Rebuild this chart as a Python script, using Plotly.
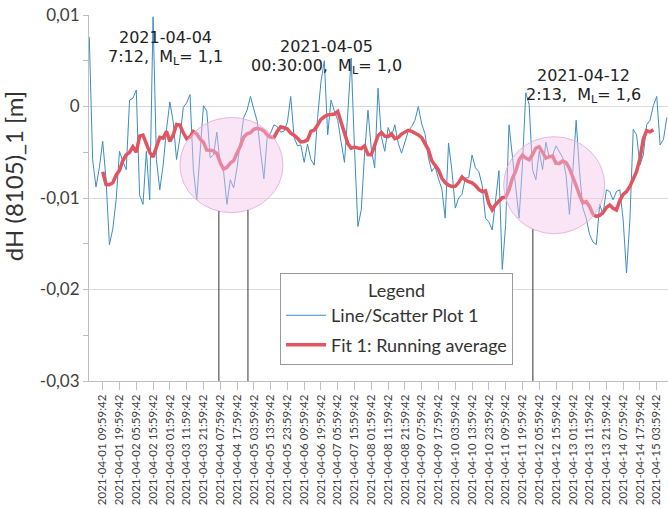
import numpy as np
import pandas as pd
import plotly.graph_objects as go

# Height change series dH (8105)_1, sampled every 2 hours
times = pd.date_range("2021-04-01 01:59:42", periods=173, freq="2h")
dh = [
    0.0076, -0.0058, -0.0088, -0.0067, -0.0038, -0.0080, -0.0151, -0.0134, -0.0102, -0.0049,
    -0.0060, -0.0069, 0.0007, 0.0009, 0.0018, -0.0097, -0.0107, -0.0049, -0.0102, 0.0098,
    -0.0058, -0.0091, -0.0064, -0.0025, 0.0005, -0.0017, -0.0058, -0.0034, -0.0001, 0.0004,
    0.0013, -0.0069, -0.0102, -0.0053, 0.0001, -0.0005, -0.0056, -0.0053, -0.0028, -0.0064,
    -0.0071, -0.0107, -0.0080, -0.0089, -0.0067, -0.0039, -0.0012, -0.0004, 0.0011, -0.0003,
    -0.0016, -0.0049, -0.0079, -0.0033, -0.0029, -0.0020, -0.0022, -0.0028, -0.0027, -0.0017,
    0.0011, -0.0034, -0.0043, -0.0042, -0.0061, -0.0041, -0.0058, -0.0064, -0.0012, 0.0027,
    0.0050, -0.0031, 0.0007, -0.0005, -0.0015, -0.0039, -0.0061, -0.0007, 0.0053, -0.0047,
    -0.0131, -0.0113, -0.0051, -0.0004, -0.0047, -0.0067, 0.0020, -0.0033, -0.0049, -0.0023,
    -0.0033, -0.0020, -0.0040, -0.0051, -0.0040, -0.0027, -0.0022, -0.0015, 0.0000, -0.0019,
    -0.0030, -0.0056, -0.0071, -0.0066, -0.0079, -0.0090, -0.0122, -0.0040, -0.0070, -0.0111,
    -0.0100, -0.0096, -0.0078, -0.0078, -0.0053, -0.0067, -0.0071, -0.0086, -0.0122, -0.0126,
    -0.0135, -0.0099, -0.0070, -0.0178, -0.0129, -0.0020, -0.0053, -0.0087, -0.0122, -0.0064,
    0.0015, 0.0002, -0.0069, -0.0080, -0.0049, -0.0069, -0.0039, -0.0056, -0.0053, -0.0043,
    -0.0049, -0.0056, -0.0075, -0.0118, -0.0071, -0.0015, -0.0071, -0.0111, -0.0122, -0.0140,
    -0.0148, -0.0151, -0.0107, -0.0118, -0.0091, -0.0093, -0.0102, -0.0093, -0.0091, -0.0124,
    -0.0182, -0.0124, -0.0025, -0.0031, -0.0064, -0.0053, -0.0020, -0.0015, 0.0001, 0.0011,
    -0.0042, -0.0036, -0.0012,
]

# Running-average window (points)
window = 9

# Seismic events: time, date line, time/magnitude line
event_times = ["2021-04-04 07:12:00", "2021-04-05 00:30:00", "2021-04-12 02:13:00"]
event_dates = ["2021-04-04", "2021-04-05", "2021-04-12"]
event_info = ["7:12,\u00a0\u00a0M<sub>L</sub>= 1,1",
              "00:30:00,\u00a0\u00a0M<sub>L</sub>= 1,0",
              "2:13,\u00a0\u00a0M<sub>L</sub>= 1,6"]
label_times = ["2021-04-02 23:12:00", "2021-04-06 23:35:00", "2021-04-13 08:24:00"]
label_values = [0.0075, 0.0066, 0.0034]
label_gap = 0.00219

# Highlighted periods (ellipses): centre time, centre value, half-width [h], half-height
zone_centers = ["2021-04-04 14:42:00", "2021-04-12 14:54:00"]
zone_values = [-0.0064, -0.0086]
zone_half_hours = [30.7, 30.1]
zone_half_values = [0.0052, 0.0053]
event_zone = [0, 0, 1]

# Axis ticks and title
y_ticks = [0.01, 0.0, -0.01, -0.02, -0.03]
y_ticktext = ["0,01", "0", "-0,01", "-0,02", "-0,03"]
y_title = "dH (8105)_1 [m]"
x_tick0 = "2021-04-01 09:59:42"
x_tick_hours = 10
x_range = ["2021-04-01 01:50:00", "2021-04-15 10:42:00"]

series = pd.Series(dh, index=times)
running = series.rolling(window, center=True).mean()

fig = go.Figure()
fig.add_trace(go.Scatter(x=times, y=dh, mode="lines", name="Line/Scatter Plot 1",
                         legendgroup="data", line=dict(color="#3d8dc6", width=1)))
fig.add_trace(go.Scatter(x=times, y=running.values, mode="lines", name="Fit 1: Running average",
                         legendgroup="fit", line=dict(color="#e05560", width=3.5)))

shapes = []
for c, v, hw, hv in zip(zone_centers, zone_values, zone_half_hours, zone_half_values):
    ct = pd.Timestamp(c)
    shapes.append(dict(type="circle", xref="x", yref="y",
                       x0=ct - pd.Timedelta(hours=hw), x1=ct + pd.Timedelta(hours=hw),
                       y0=v - hv, y1=v + hv, layer="above",
                       fillcolor="rgba(242,198,236,0.45)",
                       line=dict(color="rgba(228,176,218,0.9)", width=1)))

for t, zi in zip(event_times, event_zone):
    ct = pd.Timestamp(zone_centers[zi])
    dt = (pd.Timestamp(t) - ct).total_seconds() / 3600.0
    frac = max(0.0, 1 - (dt / zone_half_hours[zi]) ** 2)
    top = zone_values[zi] - zone_half_values[zi] * np.sqrt(frac)
    shapes.append(dict(type="line", xref="x", yref="y", x0=t, x1=t,
                       y0=y_ticks[-1], y1=top, layer="above",
                       line=dict(color="#333333", width=1)))

label_font = dict(family="DejaVu Sans", size=16, color="#222222")
annotations = []
for lt, lv, d, info in zip(label_times, label_values, event_dates, event_info):
    annotations.append(dict(x=lt, y=lv, xref="x", yref="y", text=d, showarrow=False,
                            font=label_font, xanchor="center", yanchor="middle"))
    annotations.append(dict(x=lt, y=lv - label_gap, xref="x", yref="y", text=info,
                            showarrow=False, font=label_font,
                            xanchor="center", yanchor="middle"))

# Y-axis title, placed beside the tick labels
annotations.append(dict(x=-0.131, y=0.56, xref="paper", yref="paper", text=y_title,
                        textangle=-90, showarrow=False,
                        font=dict(family="Lato", size=24, color="#333333"),
                        xanchor="center", yanchor="middle"))

fig.update_layout(
    width=668, height=508,
    margin=dict(l=89, r=0, t=15, b=127),
    paper_bgcolor="white", plot_bgcolor="white",
    font=dict(family="Lato", color="#404040"),
    shapes=shapes, annotations=annotations,
    legend=dict(x=0.33, y=0.296, xanchor="left", yanchor="top",
                bgcolor="white", bordercolor="#9a9a9a", borderwidth=1,
                font=dict(family="Lato", size=18, color="#333333"),
                title=dict(text="Legend", side="top center",
                           font=dict(family="Lato", size=18, color="#333333")),
                itemwidth=40, tracegroupgap=3, entrywidth=200),
)

fig.update_xaxes(
    type="date", range=x_range,
    tickmode="linear", tick0=x_tick0, dtick=x_tick_hours * 3600 * 1000,
    tickformat="%Y-%m-%d %H:%M:%S", tickangle=-90,
    tickfont=dict(family="Lato", size=11.5, color="#404040"),
    showgrid=False, zeroline=False,
    showline=True, linecolor="#bfbfbf", linewidth=1,
    ticks="outside", ticklen=8, tickcolor="#bfbfbf",
)

fig.update_yaxes(
    range=[y_ticks[-1], y_ticks[0]],
    tickmode="array", tickvals=y_ticks, ticktext=y_ticktext,
    tickfont=dict(family="Lato", size=17, color="#404040"),
    showgrid=True, gridcolor="#d9d9d9", gridwidth=1, zeroline=False,
    showline=True, linecolor="#bfbfbf", linewidth=1,
    ticks="outside", ticklen=5, tickcolor="#bfbfbf",
    minor=dict(tickmode="linear", tick0=0.005, dtick=0.01, ticks="outside",
               ticklen=5, tickcolor="#bfbfbf", showgrid=False),
)

fig.write_html("out.html")
